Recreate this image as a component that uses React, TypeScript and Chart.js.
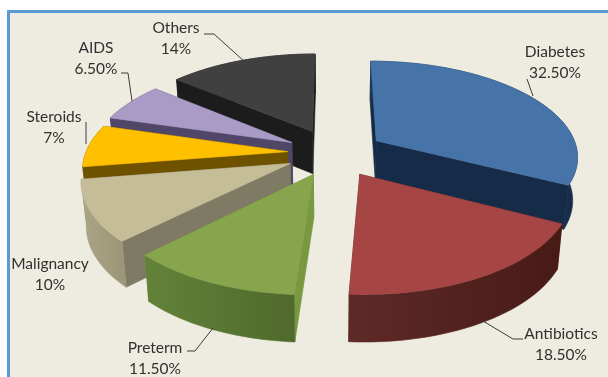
import React, { useEffect, useRef } from "react";
import { Chart, registerables } from "chart.js";

Chart.register(...registerables);

const categories = ["Diabetes", "Antibiotics", "Preterm", "Malignancy", "Steroids", "AIDS", "Others"];
const shares = [32.5, 18.5, 11.5, 10, 7, 6.5, 14];
const shareLabels = ["32.50%", "18.50%", "11.50%", "10%", "7%", "6.50%", "14%"];
// Point explosion of each slice, as a percentage of the pie radius.
const explode = [25, 25, 24, 24, 23, 24, 26];
const topColors = ["#4673A8", "#A54644", "#87A54C", "#C4BD97", "#FFC000", "#A99BC6", "#404040"];
const rimLight = ["#1C3352", "#5E2A27", "#638239", "#ABA586", "#785A00", "#574D72", "#1C1C1C"];
const rimDark = ["#172C48", "#481A16", "#4F6A2C", "#9C9778", "#785A00", "#574D72", "#1C1C1C"];
const cutColors = ["#162B47", "#5A2422", "#78993F", "#7E7A64", "#6E5200", "#4F4668", "#1C1C1C"];
const paintOrder = [6, 5, 4, 3, 2, 0, 1];

// Label centres and connector elbows, in canvas pixels.
const labelCentres = [[555, 52], [561, 334], [155, 348], [50, 264], [54, 117], [96, 48], [176, 28]];
const connectors = [
  [[527, 79], [533, 96]],
  [[523, 339], [513, 339], [483, 321]],
  [[187, 351], [195, 351], [213, 328]],
  [],
  [[86, 122], [86, 144]],
  [[121, 73], [128, 73], [132, 101]],
  [[204, 34], [214, 34], [245, 62]],
];

const CX = 334;
const CY = 153;
const RX = 202;
const RY = 95;
const TILT = 0.15;
const DEPTH = 43;
const CONVERGE = 0.02;

// Perspective projection of the unit pie plane onto the canvas.
function project(u: number, v: number): [number, number, number] {
  const w = 1 - TILT * v;
  return [CX + (RX * u) / w, CY + (RY * v) / w, w];
}

function polygon(ctx: CanvasRenderingContext2D, pts: number[][], fill: any) {
  ctx.beginPath();
  pts.forEach((p, i) => (i ? ctx.lineTo(p[0], p[1]) : ctx.moveTo(p[0], p[1])));
  ctx.closePath();
  ctx.fillStyle = fill;
  ctx.strokeStyle = fill;
  ctx.lineWidth = 0.6;
  ctx.fill();
  ctx.stroke();
}

const pie3d = {
  id: "pie3d",
  beforeDatasetsDraw(chart: any) {
    const ctx: CanvasRenderingContext2D = chart.ctx;
    const arcs = chart.getDatasetMeta(0).data;
    for (const i of paintOrder) {
      const { startAngle, endAngle, options } = arcs[i];
      const mid = (startAngle + endAngle) / 2;
      const o = options.offset / 100;
      const ou = Math.cos(mid) * o;
      const ov = Math.sin(mid) * o;
      const steps = Math.max(8, Math.ceil((endAngle - startAngle) * 40));
      const apex = project(ou, ov);
      const rim: number[][] = [];
      for (let s = 0; s <= steps; s++) {
        const a = startAngle + ((endAngle - startAngle) * s) / steps;
        rim.push(project(ou + Math.cos(a), ov + Math.sin(a)));
      }
      // The underside sits lower and slightly closer to the vanishing point.
      const drop = (p: number[]) => [p[0] + (CX - p[0]) * CONVERGE, p[1] + DEPTH / Math.sqrt(p[2])];
      const first = rim[0];
      const last = rim[steps];
      const xs = rim.map((p) => p[0]);
      const shade = ctx.createLinearGradient(Math.min(...xs), 0, Math.max(...xs), 0);
      shade.addColorStop(0, rimLight[i]);
      shade.addColorStop(1, rimDark[i]);
      const walls = [
        {
          key: rim.reduce((t, p) => t + p[1], 0) / rim.length,
          pts: [...rim, ...rim.map(drop).reverse()],
          fill: shade as any,
        },
        { key: (apex[1] + first[1]) / 2, pts: [apex, first, drop(first), drop(apex)], fill: cutColors[i] as any },
        { key: (apex[1] + last[1]) / 2, pts: [apex, last, drop(last), drop(apex)], fill: cutColors[i] as any },
      ];
      walls.sort((p, q) => p.key - q.key).forEach((f) => polygon(ctx, f.pts, f.fill));
      polygon(ctx, [apex, ...rim], topColors[i]);
    }
    return false;
  },
  afterDraw(chart: any) {
    const ctx: CanvasRenderingContext2D = chart.ctx;
    ctx.save();
    ctx.strokeStyle = "#3a3a3a";
    ctx.lineWidth = 1;
    connectors.forEach((line) => {
      if (!line.length) return;
      ctx.beginPath();
      line.forEach((p, i) => (i ? ctx.lineTo(p[0], p[1]) : ctx.moveTo(p[0], p[1])));
      ctx.stroke();
    });
    ctx.fillStyle = "#303030";
    ctx.font = '15.5px Lato, "Open Sans", sans-serif';
    ctx.textAlign = "center";
    ctx.textBaseline = "middle";
    categories.forEach((name, i) => {
      const [x, y] = labelCentres[i];
      ctx.fillText(name, x, y);
      ctx.fillText(shareLabels[i], x, y + 21);
    });
    ctx.restore();
  },
};

export default function App() {
  const ref = useRef<HTMLCanvasElement>(null);
  useEffect(() => {
    const chart = new Chart(ref.current as HTMLCanvasElement, {
      type: "pie",
      data: {
        labels: categories,
        datasets: [{ data: shares, backgroundColor: topColors, offset: explode, borderWidth: 0 }],
      },
      options: {
        responsive: false,
        animation: false,
        events: [],
        layout: { padding: 0 },
        plugins: { legend: { display: false }, tooltip: { enabled: false } },
      },
      plugins: [pie3d],
    } as any);
    return () => chart.destroy();
  }, []);
  return (
    <div style={{ position: "fixed", left: 0, top: 0, width: 608, height: 377, background: "#fff", overflow: "hidden" }}>
      <div
        style={{
          position: "absolute",
          left: 7,
          top: 10,
          width: 601,
          height: 367,
          boxSizing: "border-box",
          background: "#EEECE1",
          borderLeft: "3px solid #5B9BD5",
          borderTop: "3px solid #5B9BD5",
        }}
      />
      <canvas ref={ref} width={608} height={377} style={{ position: "absolute", left: 0, top: 0, display: "block" }} />
    </div>
  );
}
